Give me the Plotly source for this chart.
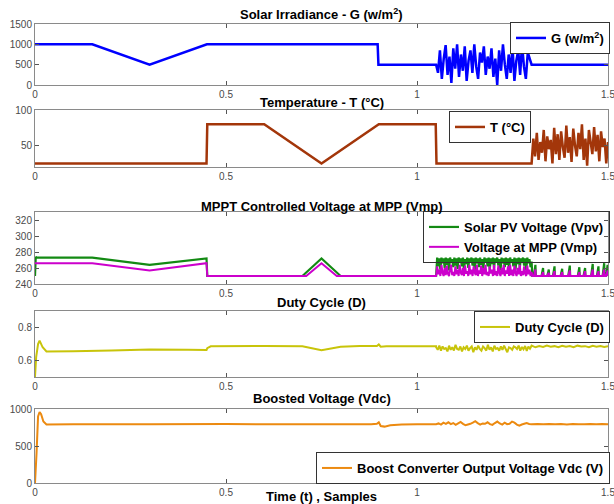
import numpy as np
import plotly.graph_objects as go

# ---------------- data ----------------
# Solar irradiance G (W/m^2)
t_g_smooth = [0, 0.15, 0.30, 0.45, 0.897, 0.899, 1.05]
g_smooth = [1000, 1000, 500, 1000, 1000, 500, 500]
g_noise = [500, 300, 850, 150, 650, 980, 250, 700, 50, 900, 400, 1000, 200, 750, 350, 950,
           100, 600, 850, 300, 1000, 450, 150, 800, 550, 950, 250, 700, 400, 900, 200, 650,
           0, 850, 350, 1000, 500, 150, 750, 300, 950, 100, 600, 850, 250, 1000, 450, 150,
           800, 650, 500]
t_g_tail = [1.30, 1.50]
g_tail = [500, 500]

# Temperature T (C)
t_T_smooth = [0, 0.449, 0.451, 0.60, 0.75, 0.90, 1.049, 1.051, 1.30]
T_smooth = [25, 25, 80, 80, 25, 80, 80, 25, 25]
T_noise = [25, 60, 35, 68, 30, 55, 40, 72, 28, 63, 45, 58, 25, 75, 38, 66, 30, 70, 48, 33,
           78, 40, 62, 27, 74, 50, 35, 68, 45, 80, 30, 60, 22, 72, 55, 38, 76, 42, 65, 28,
           70, 48, 60, 25, 55]

# PV voltage and MPP voltage
t_v_smooth = [0, 0.002, 0.004, 0.15, 0.30, 0.449, 0.451, 0.70, 0.75, 0.80, 1.05]
vpv_smooth = [250, 274, 273, 273, 264, 272, 250, 250, 272, 250, 250]
t_m_smooth = [0, 0.15, 0.30, 0.449, 0.451, 0.71, 0.75, 0.79, 1.05]
vmp_smooth = [266, 266, 257, 266, 250, 250, 266, 250, 250]
vpv_noise = [250, 273, 262, 272, 258, 273, 266, 272, 260, 273, 264, 272, 257, 273, 268, 271,
             261, 273, 263, 272, 259, 273, 267, 272, 262, 273, 258, 271, 265, 273, 260, 272,
             268, 273, 263, 272, 257, 273, 266, 272, 261, 273, 264, 271, 259, 273, 267, 272,
             262, 273, 258, 272, 265, 273, 260, 272, 268, 273, 263, 271, 257, 273, 266, 272,
             261, 273, 264, 272, 259, 273, 267, 271, 262, 273, 258, 272, 265, 273, 260, 272,
             268, 273, 263, 272, 257, 273, 266, 271, 261, 268]
vmp_noise = [250, 262, 252, 258, 250, 264, 254, 250, 260, 251, 263, 253, 250, 257, 264, 251,
             255, 250, 262, 252, 258, 250, 264, 254, 251, 260, 250, 263, 253, 256, 250, 264,
             252, 258, 250, 262, 254, 251, 264, 250, 257, 253, 263, 250, 260, 252, 264, 251,
             255, 250, 262, 253, 258, 250, 264, 251, 256, 250, 263, 254, 250, 260, 252, 264,
             250, 257, 253, 262, 250, 264, 251, 258, 250, 263, 254, 250, 260, 252, 264, 250,
             256, 251, 262, 253, 250, 263, 252, 258, 250, 255]
spike_t = [1.31, 1.33, 1.345, 1.36, 1.38, 1.40, 1.425, 1.44, 1.46, 1.475, 1.49, 1.499]
spike_vpv = [264, 260, 258, 262, 259, 263, 261, 260, 265, 262, 266, 264]
spike_vmp = [258, 255, 254, 256, 255, 257, 255, 256, 258, 256, 258, 257]

# Duty cycle
t_d_smooth = [0, 0.003, 0.008, 0.012, 0.02, 0.03, 0.1, 0.2, 0.3, 0.4, 0.449, 0.451, 0.46,
              0.6, 0.7, 0.75, 0.80, 0.85, 0.895, 0.90, 0.905, 0.92, 1.0, 1.05]
d_smooth = [0.5, 0.62, 0.70, 0.72, 0.68, 0.655, 0.656, 0.66, 0.667, 0.665, 0.663, 0.675,
            0.686, 0.688, 0.686, 0.662, 0.683, 0.688, 0.688, 0.697, 0.684, 0.687, 0.687, 0.687]
d_noise = [0.68, 0.665, 0.69, 0.66, 0.685, 0.67, 0.675, 0.655, 0.69, 0.665, 0.68, 0.66, 0.695,
           0.67, 0.665, 0.685, 0.655, 0.68, 0.67, 0.69, 0.66, 0.675, 0.685, 0.65, 0.68, 0.665,
           0.69, 0.67, 0.66, 0.685, 0.675, 0.66, 0.695, 0.665, 0.68, 0.655, 0.69, 0.67, 0.675,
           0.66, 0.685, 0.665, 0.69, 0.67, 0.65, 0.68, 0.675, 0.665, 0.685, 0.68, 0.67, 0.69,
           0.66, 0.682, 0.668, 0.688, 0.658, 0.684, 0.672, 0.69]
d_tail = [0.685, 0.68, 0.688, 0.682, 0.69, 0.684, 0.687, 0.68, 0.689, 0.683, 0.688, 0.681,
          0.69, 0.685, 0.687, 0.68, 0.689, 0.684, 0.688, 0.682, 0.686]

# Boosted voltage Vdc
t_vdc_smooth = [0, 0.004, 0.008, 0.012, 0.016, 0.022, 0.03, 0.1, 0.3, 0.5, 0.7, 0.88, 0.895,
                0.90, 0.905, 0.915, 0.93, 0.96, 1.0, 1.05]
vdc_smooth = [0, 400, 900, 960, 930, 830, 790, 795, 793, 796, 794, 795, 800, 820, 770, 762,
              780, 790, 795, 795]
vdc_noise = [795, 805, 790, 815, 800, 820, 795, 810, 785, 805, 825, 800, 780, 790, 800, 815,
             835, 810, 790, 805, 800, 820, 795, 785, 810, 830, 805, 790, 815, 795, 800, 830,
             815, 790, 775, 790, 800, 810, 798, 795]
vdc_tail = [795, 798, 793, 797, 794, 796, 792, 797, 795, 793, 798, 794, 796, 795]

x_ticks = [0, 0.5, 1, 1.5]
x_ticktext = ["0", "0.5", "1", "1.5"]

# ---------------- assemble series ----------------
def seg(t0, t1, vals):
    return [float(x) for x in np.linspace(t0, t1, len(vals))], [float(v) for v in vals]

tg_n, g_n = seg(1.05, 1.30, g_noise)
tG = t_g_smooth + tg_n + t_g_tail
G = g_smooth + g_n + g_tail

tT_n, T_n = seg(1.30, 1.50, T_noise)
tT = t_T_smooth + tT_n
T = T_smooth + T_n

def spikes(times, peaks, base=250):
    ts, vs = [], []
    for tt, p in zip(times, peaks):
        ts += [tt - 0.004, tt, tt + 0.001]
        vs += [base, p, base]
    return ts, vs

tvn, vpn = seg(1.05, 1.30, vpv_noise)
tst, vps = spikes(spike_t, spike_vpv)
tVpv = t_v_smooth + tvn + [1.302] + tst + [1.5]
Vpv = vpv_smooth + vpn + [250] + vps + [250]

tmn, vmn = seg(1.05, 1.30, vmp_noise)
tsm, vms = spikes(spike_t, spike_vmp)
tVmp = t_m_smooth + tmn + [1.302] + tsm + [1.5]
Vmp = vmp_smooth + vmn + [250] + vms + [250]

tdn, dn = seg(1.05, 1.30, d_noise)
tdt, dt = seg(1.30, 1.50, d_tail)
tD = t_d_smooth + tdn + tdt[1:]
D = d_smooth + dn + dt[1:]

tvdn, vdn = seg(1.05, 1.30, vdc_noise)
tvdt, vdt = seg(1.30, 1.50, vdc_tail)
tVdc = t_vdc_smooth + tvdn + tvdt[1:]
Vdc = vdc_smooth + vdn + vdt[1:]

# ---------------- figure ----------------
W, H = 614, 504
ML, MR = 35, 6
fig = go.Figure()

def py(p):
    return 1 - p / H

panels = [  # (top_px, bottom_px, yrange, yticks)
    (24, 85, [0, 1500], [0, 500, 1000, 1500]),
    (110, 167, [20, 100], [50, 100]),
    (212, 284, [240, 330], [240, 260, 280, 300, 320]),
    (311, 377, [0.5, 0.9], [0.6, 0.8]),
    (409, 483, [0, 1000], [0, 500, 1000]),
]

titles = ["<b>Solar Irradiance - G (w/m<sup>2</sup>)</b>",
          "<b>Temperature - T (°C)</b>",
          "<b>MPPT Controlled Voltage at MPP (Vmp)</b>",
          "<b>Duty Cycle (D)</b>",
          "<b>Boosted Voltage (Vdc)</b>"]

series = [
    (tG, G, "#0000ff", 2.5, "G (w/m<sup>2</sup>)", 1),
    (tT, T, "#a3360a", 2.5, "T (°C)", 2),
    (tVpv, Vpv, "#138a13", 2.2, "Solar PV Voltage (Vpv)", 3),
    (tVmp, Vmp, "#cc00cc", 2, "Voltage at MPP (Vmp)", 3),
    (tD, D, "#c8c40a", 2, "Duty Cycle (D)", 4),
    (tVdc, Vdc, "#ec8a10", 2, "Boost Converter Output Voltage Vdc (V)", 5),
]

for t, v, col, w, name, k in series:
    sfx = "" if k == 1 else str(k)
    fig.add_trace(go.Scatter(
        x=t, y=v, mode="lines", name=name,
        line=dict(color=col, width=w, simplify=False),
        xaxis="x" + sfx, yaxis="y" + sfx,
        legend="legend" + sfx,
    ))

axis_common = dict(
    showline=True, linecolor="#8a8a8a", linewidth=1, mirror="allticks",
    ticks="inside", ticklen=4, tickcolor="#555", showgrid=False, zeroline=False,
    tickfont=dict(family="Liberation Sans, Arial", size=10, color="#4a4a4a"),
    automargin=False, ticklabeloverflow="allow",
)

layout = dict(
    width=W, height=H, margin=dict(l=ML, r=MR, t=0, b=0),
    paper_bgcolor="white", plot_bgcolor="white", showlegend=True,
    font=dict(family="Liberation Sans, Arial", color="black"),
)

for i, (top, bot, yr, yt) in enumerate(panels):
    sfx = "" if i == 0 else str(i + 1)
    layout["xaxis" + sfx] = dict(
        axis_common, domain=[0, 1], range=[0, 1.5], tickvals=x_ticks,
        ticktext=x_ticktext, anchor="y" + sfx,
    )
    layout["yaxis" + sfx] = dict(
        axis_common, domain=[py(bot), py(top)], range=yr, tickvals=yt,
        anchor="x" + sfx,
    )

leg_common = dict(
    bgcolor="white", bordercolor="#333", borderwidth=1,
    font=dict(family="Liberation Sans, Arial", size=13, color="black", weight="bold"),
    xanchor="right", yanchor="top", tracegroupgap=0,
)
PW = W - ML - MR
legend_pos = [(1.0 + 2 / PW, py(22)), ((531 - ML) / PW, py(111)), (1.0 + 2 / PW, py(211)),
              (1.0 + 2 / PW, py(311)), (1.0 + 2 / PW, py(452))]
for i, (lx, ly) in enumerate(legend_pos):
    sfx = "" if i == 0 else str(i + 1)
    layout["legend" + sfx] = dict(leg_common, x=lx, y=ly)
# the PV legend box sits just over the top of the noisy band: keep it see-through
layout["legend3"]["bgcolor"] = "rgba(255,255,255,0)"

fig.update_layout(**layout)

title_y = [14, 103, 206, 302, 398]
for ttl, ty in zip(titles, title_y):
    fig.add_annotation(text=ttl, xref="paper", yref="paper", x=0.5, y=py(ty),
                       showarrow=False, xanchor="center", yanchor="middle",
                       font=dict(size=13, color="black"))
fig.add_annotation(text="<b>Time (t) , Samples</b>", xref="paper", yref="paper", x=0.5,
                   y=py(496), showarrow=False, xanchor="center", yanchor="middle",
                   font=dict(size=13, color="black"))

fig.write_html("out.html")
